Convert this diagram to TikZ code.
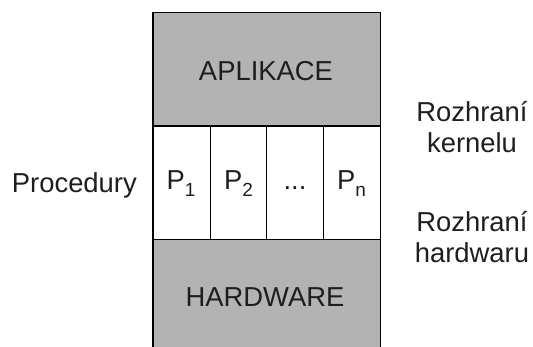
\documentclass[tikz,border=0pt]{standalone}
\usepackage{fontspec}
\setmainfont{Liberation Sans}
\definecolor{boxgray}{HTML}{B3B3B3}
\definecolor{txt}{HTML}{1E1E1E}
\begin{document}
\begin{tikzpicture}[x=1pt,y=-1pt,
  layer/.style={draw=black,line width=1pt,fill=boxgray,inner sep=0pt,minimum width=227pt},
  cell/.style={draw=black,line width=0.9pt,fill=white,inner sep=0pt,minimum width=57pt,minimum height=113pt},
  lbl/.style={anchor=base,inner sep=0pt,text=txt,font=\fontsize{27.4}{31}\selectfont},
  side/.style={lbl,align=center}]
\useasboundingbox (0,0) rectangle (533,347);
\clip (0,0) rectangle (533,347);
\node[layer,minimum height=113pt] (app) at (266.5,69.5) {};
\node[layer,minimum height=121pt] (hw) at (266.5,299.5) {};
\node[cell] (c1) at (181.5,182.5) {};
\node[cell] (c2) at (238.5,182.5) {};
\node[cell] (c3) at (295,182.5) {};
\node[cell] (c4) at (351.5,182.5) {};
\draw[line width=1.8pt] (app.north west) rectangle (hw.south east);
\node[lbl] (tapp) at (266,81) {APLIKACE};
\node[lbl] (thw) at (265,307) {HARDWARE};
\node[lbl] (p1) at (181,190) {P\raisebox{-0.24em}{\fontsize{19}{19}\selectfont 1}};
\node[lbl] (p2) at (238.5,190) {P\raisebox{-0.24em}{\fontsize{19}{19}\selectfont 2}};
\node[lbl] (p3) at (295,190) {...};
\node[lbl] (p4) at (351.5,190) {P\raisebox{-0.24em}{\fontsize{19}{19}\selectfont n}};
\node[lbl,anchor=base east] (proc) at (137,193) {Procedury};
\node[lbl] (rk1) at (472,122) {Rozhraní};
\node[lbl] (rk2) at (472,153) {kernelu};
\node[lbl] (rh1) at (472,232) {Rozhraní};
\node[lbl] (rh2) at (472,263) {hardwaru};
\end{tikzpicture}
\end{document}
